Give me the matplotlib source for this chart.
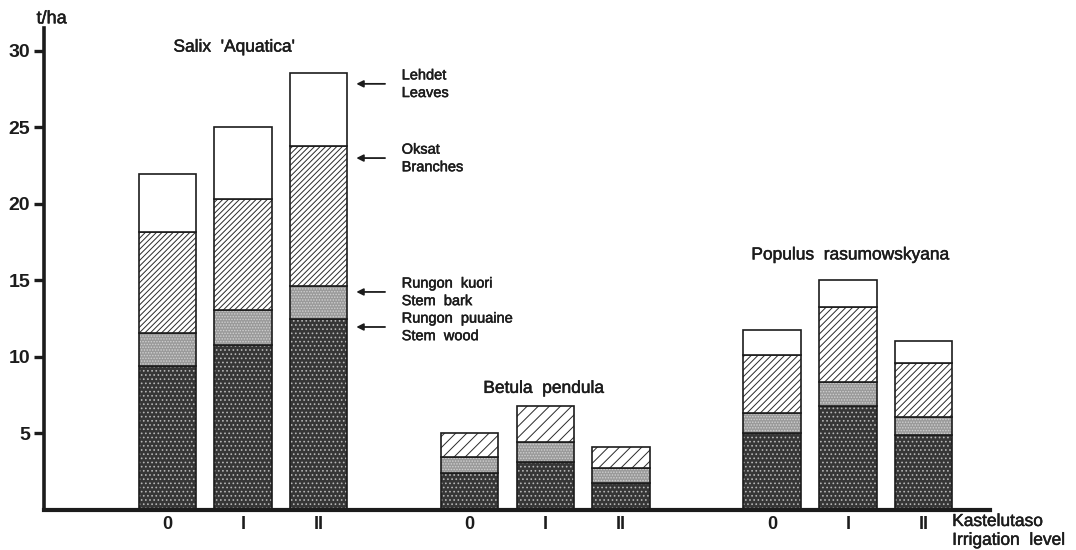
import matplotlib.pyplot as plt
import matplotlib.patheffects as pe
import numpy as np

# Settings
plt.rcParams['font.family'] = ['Liberation Sans', 'DejaVu Sans']
plt.rcParams['hatch.linewidth'] = 0.7
INK = '#1c1c1c'
BOLDEN = [pe.withStroke(linewidth = 0.35, foreground = INK)]

# Data (t/ha), one value per bar: Salix 0/I/II, Betula 0/I/II, Populus 0/I/II
groupNames = ["Salix  'Aquatica'", 'Betula  pendula', 'Populus  rasumowskyana']
levelLabels = ['0', 'I', 'II']
stemWood = [9.4, 10.8, 12.5, 2.4, 3.15, 1.75, 5.05, 6.8, 4.9]
stemBark = [2.15, 2.25, 2.15, 1.05, 1.3, 1.0, 1.3, 1.55, 1.2]
branches = [6.6, 7.3, 9.15, 1.6, 2.35, 1.35, 3.75, 4.9, 3.5]
leaves = [3.8, 4.65, 4.75, 0.0, 0.0, 0.0, 1.65, 1.8, 1.45]

componentNames = [('Rungon  puuaine', 'Stem  wood'), ('Rungon  kuori', 'Stem  bark'),
                  ('Oksat', 'Branches'), ('Lehdet', 'Leaves')]

# Fill, hatch per group and hatch colour for each component
styles = [('#363636', ['....', '....', '....'], '#b5b5b5'),
          ('#9a9a9a', ['......', '......', '......'], '#d0d0d0'),
          ('white', ['//////', '///', '/////'], '#2a2a2a'),
          ('white', None, 'white')]

positions = np.array([g * 4 + k for g in range(3) for k in range(3)], dtype = float)
groupIndex = np.repeat(np.arange(3), 3)
barWidth = 0.76

fig = plt.figure(figsize = (10.76, 5.5), dpi = 100)
ax = fig.add_axes([44 / 1076, 40 / 550, 946 / 1076, 482 / 550])

bottom = np.zeros(len(positions))
for values, (face, hatches, hatchColor) in zip([stemWood, stemBark, branches, leaves], styles):
    values = np.array(values)
    mask = values > 0
    x, h, b = positions[mask], values[mask], bottom[mask]
    ax.bar(x, h, barWidth, bottom = b, color = face, edgecolor = 'none', linewidth = 0)
    if hatches:
        bars = ax.bar(x, h, barWidth, bottom = b, color = 'none', edgecolor = hatchColor, linewidth = 0)
        for patch, g in zip(bars.patches, groupIndex[mask]):
            patch.set_hatch(hatches[g])
    ax.bar(x, h, barWidth, bottom = b, fill = False, edgecolor = INK, linewidth = 1.2)
    bottom += values

# Axes
ax.set_xlim(-1.63, 10.88)
ax.set_ylim(0, 31.5)
ax.spines[['top', 'right']].set_visible(False)
ax.spines['left'].set_linewidth(2.6)
ax.spines['bottom'].set_linewidth(3.0)
ax.spines['left'].set_color(INK)
ax.spines['bottom'].set_color(INK)

ax.set_yticks([5, 10, 15, 20, 25, 30])
ax.tick_params(axis = 'y', direction = 'out', length = 7, width = 2.4, color = INK, labelsize = 14, pad = 3, labelcolor = INK)
ax.set_xticks(positions)
ax.set_xticklabels(levelLabels * 3)
ax.tick_params(axis = 'x', length = 0, labelsize = 13, pad = 4, labelcolor = INK)
for label in ax.get_xticklabels() + ax.get_yticklabels():
    label.set_fontweight('bold')

ax.text(-1.53, 32.1, 't/ha', fontsize = 13, ha = 'center', va = 'center', color = INK, path_effects = BOLDEN)
ax.text(10.38, -0.75, 'Kastelutaso', fontsize = 12.5, ha = 'left', va = 'center', color = INK, path_effects = BOLDEN)
ax.text(10.38, -1.98, 'Irrigation  level', fontsize = 12.5, ha = 'left', va = 'center', color = INK, path_effects = BOLDEN)

# Species titles
titlePos = [(0.89, 30.25), (4.98, 7.95), (9.04, 16.67)]
for name, (tx, ty) in zip(groupNames, titlePos):
    ax.text(tx, ty, name, fontsize = 12.5, ha = 'center', va = 'center', color = INK, path_effects = BOLDEN)

# Component key arrows next to the tallest bar
arrowY = [11.96, 14.25, 23.0, 27.85]
for (fi, en), ay in zip(componentNames, arrowY):
    ax.annotate('', xy = (2.5, ay), xytext = (2.88, ay),
                arrowprops = dict(arrowstyle = '-|>', color = INK, lw = 1.3, mutation_scale = 10, shrinkA = 0, shrinkB = 0))
    ax.text(3.1, ay + 0.55, fi, fontsize = 10.5, ha = 'left', va = 'center', color = INK, path_effects = BOLDEN)
    ax.text(3.1, ay - 0.6, en, fontsize = 10.5, ha = 'left', va = 'center', color = INK, path_effects = BOLDEN)

fig.savefig('out.png', dpi = 100)
